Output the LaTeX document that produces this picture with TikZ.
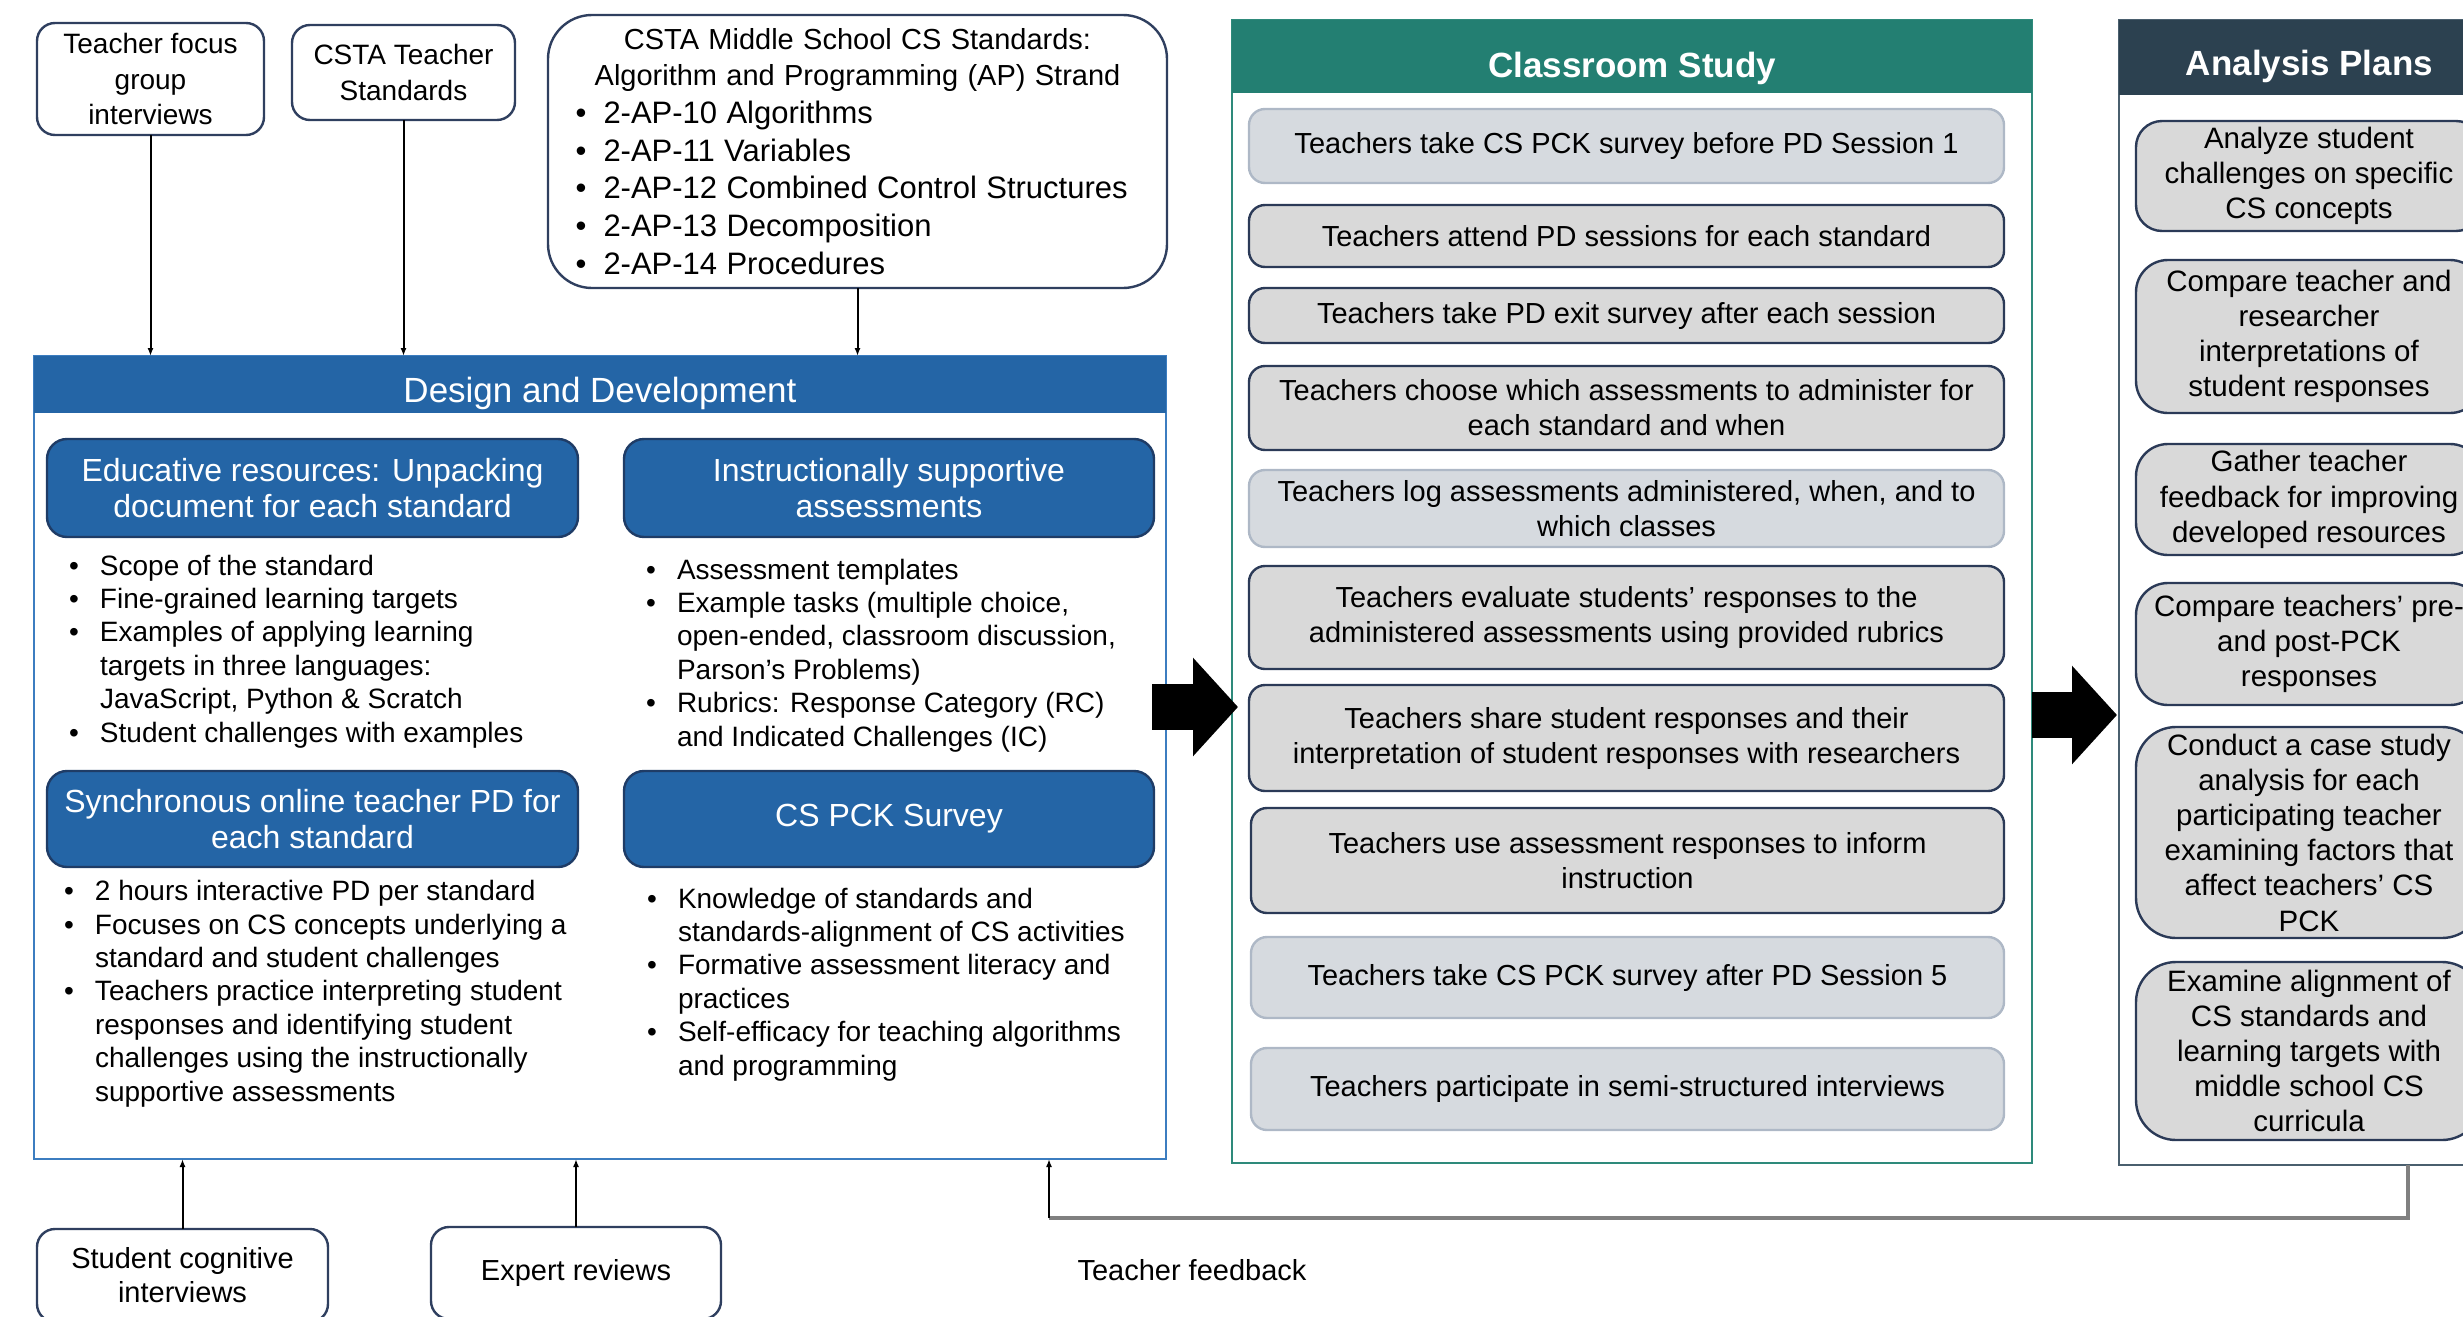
\documentclass[tikz,border=0pt]{standalone}
\usepackage{fontspec}
\setmainfont{Liberation Sans}
\usetikzlibrary{arrows.meta}
\definecolor{ddblue}{HTML}{2465A6}
\definecolor{ddframe}{HTML}{3C7DC0}
\definecolor{bluebd}{HTML}{1F3C66}
\definecolor{tealhd}{HTML}{237F72}
\definecolor{tealbd}{HTML}{2E8A7B}
\definecolor{slatehd}{HTML}{2C4150}
\definecolor{slatebd}{HTML}{4A5F6E}
\definecolor{grayfill}{HTML}{D9D9D9}
\definecolor{darkbd}{HTML}{2B3A57}
\definecolor{lightfill}{HTML}{D6DADF}
\definecolor{lightbd}{HTML}{AEB8C6}
\definecolor{topbd}{HTML}{2F3F5F}
\definecolor{fbgray}{HTML}{808080}
\newcommand{\bul}{\makebox[15.5pt][l]{\textbullet}}
\newcommand{\ind}{\hspace*{15.5pt}}
\newcommand{\bulb}{\makebox[14pt][l]{\textbullet}}
\begin{document}
\begin{tikzpicture}[x=0.5pt,y=-0.5pt,
  bx/.style n args={4}{at={({(#1+#3)/2},{(#2+#4)/2})}, minimum width={(#3-#1)*0.5pt}, minimum height={(#4-#2)*0.5pt}},
  frame/.style={inner sep=0pt, outer sep=0pt},
  topbox/.style={frame, draw=topbd, line width=1.2pt, rounded corners=9pt, fill=white, align=center, font=\fontsize{14}{17.75}\selectfont},
  bluebox/.style={frame, draw=bluebd, fill=ddblue, line width=1.2pt, rounded corners=10pt, text=white, align=center, font=\fontsize{16}{18}\selectfont},
  graybox/.style={frame, draw=darkbd, fill=grayfill, line width=1.2pt, rounded corners=8pt, align=center, font=\fontsize{14.5}{17.5}\selectfont},
  lightbox/.style={graybox, draw=lightbd, fill=lightfill},
  anbox/.style={graybox, rounded corners=16pt, font=\fontsize{14.75}{17.6}\selectfont},
  hdr/.style={frame, text=white, text height=18pt, text depth=0pt, font=\fontsize{17.5}{21}\selectfont},
  blist/.style={frame, align=left, anchor=base west, font=\fontsize{14}{16.7}\selectfont},
  conn/.style={line width=1pt, -{Latex[length=4pt,width=3pt]}},
  bigarrow/.style={line width=23pt, -{Triangle[length=22.5pt,width=48pt]}},
  fbline/.style={draw=fbgray, line width=2pt}
]
\useasboundingbox (0,0) rectangle (2463,1317);
\clip (0,0) rectangle (2463,1317);

% ---------- top source boxes
\node[topbox, bx={37}{23}{264}{135}] (tf) {Teacher focus\\group\\interviews};
\node[topbox, bx={292}{25}{515}{120}] (cts) {CSTA Teacher\\Standards};
\node[topbox, rounded corners=22pt, bx={548}{15}{1167}{288}, text width=282pt] (csms)
 {{\centering\fontsize{14.5}{18}\selectfont CSTA Middle School CS Standards:\\Algorithm and Programming (AP) Strand\par}
  {\raggedright\fontsize{15.5}{18.85}\selectfont \bulb 2-AP-10 Algorithms\\\bulb 2-AP-11 Variables\\\bulb 2-AP-12 Combined Control Structures\\\bulb 2-AP-13 Decomposition\\\bulb 2-AP-14 Procedures\par}};

% ---------- Design and Development
\node[frame, draw=ddframe, line width=1pt, bx={34}{356}{1166}{1159}] (dd) {};
\node[hdr, fill=ddblue, bx={34}{356}{1166}{413}] (ddh) {Design and Development};
\node[bluebox, bx={47}{439}{578}{537}] (b1) {Educative resources: Unpacking\\document for each standard};
\node[bluebox, bx={624}{439}{1154}{537}] (b2) {Instructionally supportive\\assessments};
\node[bluebox, bx={47}{771}{578}{867}] (b3) {Synchronous online teacher PD for\\each standard};
\node[bluebox, bx={624}{771}{1154}{867}] (b4) {CS PCK Survey};

\node[blist] (l1) at (69,742) {\bul Scope of the standard\\
\bul Fine-grained learning targets\\
\bul Examples of applying learning\\
\ind targets in three languages:\\
\ind JavaScript, Python \& Scratch\\
\bul Student challenges with examples};
\node[blist] (l2) at (646,746) {\bul Assessment templates\\
\bul Example tasks (multiple choice,\\
\ind open-ended, classroom discussion,\\
\ind Parson’s Problems)\\
\bul Rubrics: Response Category (RC)\\
\ind and Indicated Challenges (IC)};
\node[blist] (l3) at (64,1101) {\bul 2 hours interactive PD per standard\\
\bul Focuses on CS concepts underlying a\\
\ind standard and student challenges\\
\bul Teachers practice interpreting student\\
\ind responses and identifying student\\
\ind challenges using the instructionally\\
\ind supportive assessments};
\node[blist] (l4) at (647,1075) {\bul Knowledge of standards and\\
\ind standards-alignment of CS activities\\
\bul Formative assessment literacy and\\
\ind practices\\
\bul Self-efficacy for teaching algorithms\\
\ind and programming};

% ---------- Classroom Study
\node[frame, draw=tealbd, line width=1pt, bx={1232}{20}{2032}{1163}] (cs) {};
\node[hdr, fill=tealhd, text height=20.5pt, font=\fontsize{17.5}{21}\selectfont\bfseries, bx={1232}{20}{2032}{93}] (csh) {Classroom Study};
\node[lightbox, bx={1249}{109}{2004}{183}] (c1) {Teachers take CS PCK survey before PD Session 1};
\node[graybox, bx={1249}{205}{2004}{267}] (c2) {Teachers attend PD sessions for each standard};
\node[graybox, bx={1249}{288}{2004}{343}] (c3) {Teachers take PD exit survey after each session};
\node[graybox, bx={1249}{366}{2004}{450}] (c4) {Teachers choose which assessments to administer for\\each standard and when};
\node[lightbox, bx={1249}{470}{2004}{547}] (c5) {Teachers log assessments administered, when, and to\\which classes};
\node[graybox, bx={1249}{566}{2004}{669}] (c6) {Teachers evaluate students’ responses to the\\administered assessments using provided rubrics};
\node[graybox, bx={1249}{685}{2004}{791}] (c7) {Teachers share student responses and their\\interpretation of student responses with researchers};
\node[graybox, bx={1251}{808}{2004}{913}] (c8) {Teachers use assessment responses to inform\\instruction};
\node[lightbox, bx={1251}{937}{2004}{1018}] (c9) {Teachers take CS PCK survey after PD Session 5};
\node[lightbox, bx={1251}{1048}{2004}{1130}] (c10) {Teachers participate in semi-structured interviews};

% ---------- Analysis Plans
\node[frame, draw=slatebd, line width=1pt, bx={2119}{20}{2500}{1165}] (ap) {};
\node[hdr, fill=slatehd, font=\fontsize{17.5}{21}\selectfont\bfseries, bx={2119}{20}{2500}{95}] (aph) {Analysis Plans};
\node[anbox, rounded corners=13pt, bx={2136}{121}{2482}{231}] (a1) {Analyze student\\challenges on specific\\CS concepts};
\node[anbox, bx={2136}{260}{2482}{413}] (a2) {Compare teacher and\\researcher\\interpretations of\\student responses};
\node[anbox, bx={2136}{444}{2482}{555}] (a3) {Gather teacher\\feedback for improving\\developed resources};
\node[anbox, bx={2136}{583}{2482}{705}] (a4) {Compare teachers’ pre-\\and post-PCK\\responses};
\node[anbox, rounded corners=20pt, bx={2136}{727}{2482}{938}] (a5) {Conduct a case study\\analysis for each\\participating teacher\\examining factors that\\affect teachers’ CS\\PCK};
\node[anbox, rounded corners=20pt, bx={2136}{962}{2482}{1140}] (a6) {Examine alignment of\\CS standards and\\learning targets with\\middle school CS\\curricula};

% ---------- bottom source boxes
\node[topbox, font=\fontsize{14.5}{17}\selectfont, bx={37}{1229}{328}{1322}] (sci) {Student cognitive\\interviews};
\node[topbox, font=\fontsize{14.5}{17}\selectfont, bx={431}{1227}{721}{1319}] (er) {Expert reviews};
\node[frame, font=\fontsize{14.5}{17}\selectfont] (tfb) at (1192,1270) {Teacher feedback};

% ---------- connectors
\draw[conn] (tf.south) -- (tf.south |- dd.north);
\draw[conn] (cts.south) -- (cts.south |- dd.north);
\draw[conn] (csms.south) -- (csms.south |- dd.north);
\draw[conn] (sci.north) -- (sci.north |- dd.south);
\draw[conn] (er.north) -- (er.north |- dd.south);
\coordinate (fbx) at (2408,0);
\coordinate (fbc) at (1049,1218);
\draw[fbline] (ap.south -| fbx) |- (fbc);
\draw[conn] (fbc) -- (fbc |- dd.south);

% ---------- big arrows
\coordinate (ba1s) at (1152,707);
\coordinate (ba1e) at (1238,707);
\coordinate (ba2s) at (2032,715);
\coordinate (ba2e) at (2117,715);
\draw[bigarrow] (ba1s) -- (ba1e);
\draw[bigarrow] (ba2s) -- (ba2e);
\end{tikzpicture}
\end{document}
